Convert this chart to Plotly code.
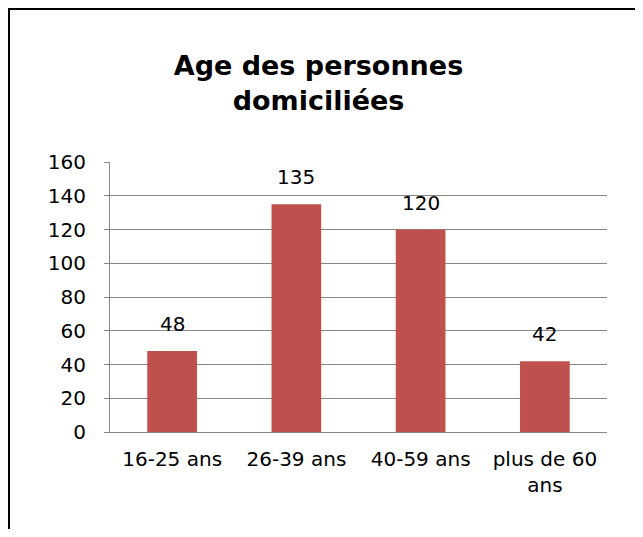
import plotly.graph_objects as go

# --- données ---
categories = ['16-25 ans', '26-39 ans', '40-59 ans', 'plus de 60<br>ans']
personnes = [48, 135, 120, 42]
ticks_y = [0, 20, 40, 60, 80, 100, 120, 140, 160]

ROUGE = '#C0504D'
GRIS = '#878787'
POLICE = 'DejaVu Sans, Verdana, sans-serif'

fig = go.Figure()
fig.add_trace(go.Bar(
    x=categories, y=personnes,
    marker_color=ROUGE, marker_line_width=0,
    hoverinfo='skip',
))

# étiquettes au-dessus des barres
for cat, val in zip(categories, personnes):
    fig.add_annotation(
        x=cat, y=val, text=str(val), showarrow=False,
        yanchor='middle', yshift=27,
        font=dict(family=POLICE, size=20, color='#000000'),
    )

# cadre du graphique (style Excel)
fig.add_shape(
    type='rect', xref='paper', yref='paper',
    x0=-0.2032, x1=1.1, y0=-0.5, y1=1.5667,
    line=dict(color='#000000', width=2), fillcolor='rgba(0,0,0,0)',
    layer='below',
)

fig.update_layout(
    width=635, height=521,
    margin=dict(l=102, r=36, t=154, b=97),
    paper_bgcolor='white', plot_bgcolor='white',
    showlegend=False,
    bargap=0.6,
    font=dict(family=POLICE, size=20, color='#000000'),
    title=dict(
        text='<b>Age des personnes<br>domiciliées</b>',
        x=310.5 / 635, xanchor='center', xref='container',
        y=1 - 67 / 521, yanchor='middle', yref='container',
        font=dict(family=POLICE, size=27, color='#000000'),
    ),
)
fig.update_xaxes(
    showline=True, linecolor=GRIS, linewidth=1,
    showgrid=False, ticks='', ticklabelstandoff=9,
)
fig.update_yaxes(
    range=[0, 160], tickvals=ticks_y,
    showline=True, linecolor=GRIS, linewidth=1,
    showgrid=True, gridcolor=GRIS, gridwidth=1,
    zeroline=False,
    ticks='outside', ticklen=5, tickcolor=GRIS,
    ticklabelstandoff=14,
)

fig.write_html('out.html')
